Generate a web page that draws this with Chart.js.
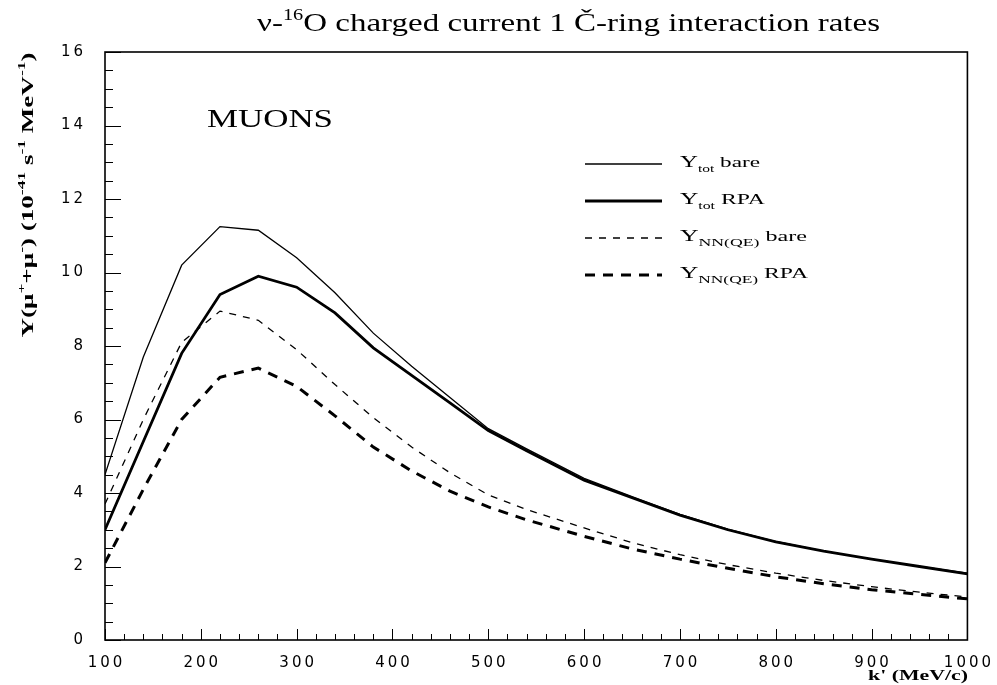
<!DOCTYPE html>
<html>
<head>
<meta charset="utf-8">
<script src="https://cdn.jsdelivr.net/npm/chart.js@4.4.0/dist/chart.umd.min.js"></script>
<style>
  html, body { margin: 0; padding: 0; background: #fff; }
  canvas { display: block; }
</style>
</head>
<body>
<canvas id="rates" width="997" height="685"></canvas>
<script>
/* ── data ── */
const kPrime  = [100, 140, 180, 220, 260, 300, 340, 380, 420, 460, 500, 540, 600, 650, 700, 750, 800, 850, 900, 950, 1000];
const totBare = [4.5, 7.7, 10.2, 11.25, 11.15, 10.4, 9.45, 8.35, 7.45, 6.6, 5.75, 5.2, 4.4, 3.9, 3.42, 3.02, 2.68, 2.42, 2.2, 2.0, 1.82];
const totRPA  = [3.0, 5.4, 7.8, 9.4, 9.9, 9.6, 8.9, 7.95, 7.2, 6.45, 5.7, 5.15, 4.35, 3.87, 3.4, 3.0, 2.67, 2.42, 2.2, 2.0, 1.8];
const nnBare  = [3.7, 6.0, 8.1, 8.95, 8.7, 7.9, 6.95, 6.05, 5.25, 4.55, 3.95, 3.55, 3.05, 2.65, 2.32, 2.05, 1.82, 1.62, 1.45, 1.3, 1.17];
const nnRPA   = [2.1, 4.1, 6.0, 7.15, 7.4, 6.9, 6.1, 5.25, 4.6, 4.05, 3.62, 3.27, 2.82, 2.48, 2.2, 1.95, 1.72, 1.53, 1.37, 1.24, 1.12];

const xRange = [100, 1000], xStep = 100, xMinor = 20;
const yRange = [0, 16],     yStep = 2,   yMinor = 0.5;

const SERIF = '"Liberation Serif", "DejaVu Serif", serif';
const SANS  = '"DejaVu Sans", sans-serif';

const pts = arr => kPrime.map((k, i) => ({ x: k, y: arr[i] }));

/* draw a run of text pieces [text, size, dy, bold], optionally stretched to a width */
function rich(ctx, parts, x, y, align, width) {
  let w = 0;
  const fnt = p => (p[3] ? 'bold ' : '') + p[1] + 'px ' + SERIF;
  parts.forEach(p => { ctx.font = fnt(p); p.w = ctx.measureText(p[0]).width; w += p.w; });
  const sx = width ? width / w : 1;
  const tw = w * sx;
  const x0 = align === 'center' ? x - tw / 2 : align === 'right' ? x - tw : x;
  ctx.save();
  ctx.translate(x0, y);
  ctx.scale(sx, 1);
  let cx = 0;
  parts.forEach(p => { ctx.font = fnt(p); ctx.fillText(p[0], cx, p[2] || 0); cx += p.w; });
  ctx.restore();
}

const legendRows = [
  { ds: 0, y: 164, parts: [['Y', 16], ['tot', 10, 5], [' bare', 15]], w: 80 },
  { ds: 1, y: 201, parts: [['Y', 16], ['tot', 10, 5], [' RPA', 15]], w: 85 },
  { ds: 2, y: 238, parts: [['Y', 16], ['NN(QE)', 11, 5], [' bare', 15]], w: 127 },
  { ds: 3, y: 275, parts: [['Y', 16], ['NN(QE)', 11, 5], [' RPA', 15]], w: 128 }
];

const decor = {
  id: 'decor',
  afterDatasetsDraw(chart) {
    const { ctx, chartArea: a, scales: { x, y } } = chart;
    ctx.save();
    ctx.strokeStyle = '#000';
    ctx.fillStyle = '#000';

    /* frame */
    ctx.lineWidth = 1.6;
    ctx.strokeRect(a.left, a.top, a.right - a.left, a.bottom - a.top);

    /* inward ticks */
    ctx.lineWidth = 1;
    ctx.beginPath();
    for (let v = xRange[0]; v <= xRange[1] + 1e-6; v += xMinor) {
      const px = Math.round(x.getPixelForValue(v)) + 0.5;
      const len = Math.abs(v % xStep) < 1e-6 ? 11 : 6;
      ctx.moveTo(px, a.bottom); ctx.lineTo(px, a.bottom - len);
    }
    for (let v = yRange[0]; v <= yRange[1] + 1e-6; v += yMinor) {
      const py = Math.round(y.getPixelForValue(v)) + 0.5;
      const len = Math.abs(v % yStep) < 1e-6 ? 16 : 8;
      ctx.moveTo(a.left, py); ctx.lineTo(a.left + len, py);
    }
    ctx.stroke();

    /* title */
    ctx.textBaseline = 'alphabetic';
    rich(ctx, [['\u03bd-', 26], ['16', 16, -11], ['O charged current 1 \u010c-ring interaction rates', 26]], 257, 31, 'left', 623);

    /* MUONS */
    rich(ctx, [['MUONS', 26]], 207, 127, 'left', 126);

    /* x axis title */
    rich(ctx, [["k' (MeV/c)", 15, 0, true]], 968, 680, 'right', 100);

    /* y axis title */
    ctx.save();
    ctx.translate(33, 195);
    ctx.rotate(-Math.PI / 2);
    rich(ctx, [
      ['Y(\u03bc', 17, 0, true], ['+', 11, -8, true], ['+\u03bc', 17, 0, true], ['-', 11, -8, true],
      [') (10', 17, 0, true], ['-41', 11, -8, true], [' s', 17, 0, true], ['-1', 11, -8, true],
      [' MeV', 17, 0, true], ['-1', 11, -8, true], [')', 17, 0, true]
    ], 0, 0, 'center', 285);
    ctx.restore();

    /* legend */
    legendRows.forEach(r => {
      const ds = chart.data.datasets[r.ds];
      ctx.beginPath();
      ctx.lineWidth = ds.borderWidth;
      ctx.setLineDash(ds.borderDash || []);
      ctx.moveTo(585, r.y); ctx.lineTo(662, r.y);
      ctx.stroke();
      ctx.setLineDash([]);
      rich(ctx, r.parts, 680, r.y + 3, 'left', r.w);
    });
    ctx.restore();
  }
};

const digits = v => String(v).split('').join('\u2009');

new Chart(document.getElementById('rates').getContext('2d'), {
  type: 'line',
  data: {
    datasets: [
      { label: 'Ytot bare',    data: pts(totBare), borderColor: '#000', borderWidth: 1.3 },
      { label: 'Ytot RPA',     data: pts(totRPA),  borderColor: '#000', borderWidth: 2.8 },
      { label: 'YNN(QE) bare', data: pts(nnBare),  borderColor: '#000', borderWidth: 1.3, borderDash: [7, 7] },
      { label: 'YNN(QE) RPA',  data: pts(nnRPA),   borderColor: '#000', borderWidth: 3,   borderDash: [10, 8] }
    ]
  },
  options: {
    responsive: false,
    animation: false,
    elements: { point: { radius: 0 }, line: { tension: 0, fill: false } },
    layout: { padding: { top: 52, right: 29, left: 0, bottom: 0 } },
    plugins: { legend: { display: false }, title: { display: false }, tooltip: { enabled: false } },
    scales: {
      x: {
        type: 'linear', min: xRange[0], max: xRange[1],
        grid: { display: false }, border: { display: false },
        ticks: { stepSize: xStep, color: '#000', padding: 6, maxRotation: 0, font: { family: SANS, size: 15 }, callback: digits },
        afterFit: s => { s.height = 45; }
      },
      y: {
        min: yRange[0], max: yRange[1],
        grid: { display: false }, border: { display: false },
        ticks: { stepSize: yStep, color: '#000', padding: 14, font: { family: SANS, size: 15 }, callback: digits },
        afterFit: s => { s.width = 105; }
      }
    }
  },
  plugins: [decor]
});
</script>
</body>
</html>
